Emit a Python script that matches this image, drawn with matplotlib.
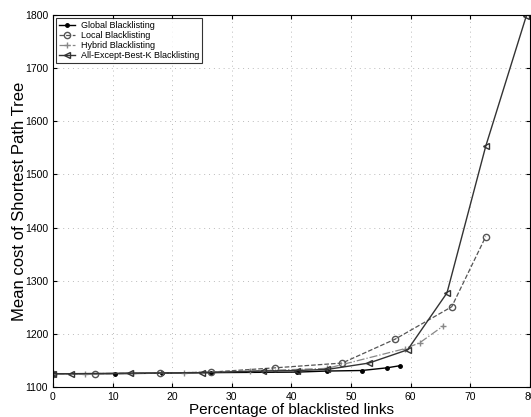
import matplotlib.pyplot as plt

# ---------------------------------------------------------
# Data
# ---------------------------------------------------------
global_x = [0, 10.4, 18.3, 26.5, 41, 46, 51.8, 56, 58.2]
global_y = [1125, 1125, 1126, 1127, 1128, 1130, 1131, 1136, 1140]

local_x = [0, 7, 18, 26.5, 37.2, 48.5, 57.4, 66.9, 72.6]
local_y = [1125, 1125, 1126, 1128, 1136, 1145, 1190, 1251, 1383]

hybrid_x = [0, 5.4, 13.5, 22, 33, 46, 59, 61.5, 65.5]
hybrid_y = [1125, 1125, 1126, 1127, 1130, 1135, 1172, 1183, 1215]

abk_x = [0, 3, 13, 25, 35.3, 41, 46, 53, 59.5, 66.1, 72.6, 79.4]
abk_y = [1125, 1125, 1126, 1127, 1130, 1131, 1133, 1145, 1170, 1277, 1553, 1798]

plt.rcParams['font.family'] = ['Liberation Sans', 'DejaVu Sans']

fig = plt.figure(figsize=(5.31, 4.17), dpi=100)
ax = fig.add_axes([0.0998, 0.072, 0.898, 0.892])

ax.plot(global_x, global_y, '-', color='black', lw=1.0, marker='.', ms=5,
        label='Global Blacklisting')
ax.plot(local_x, local_y, '--', color='#555555', lw=0.9, marker='o', ms=4.5,
        mfc='none', label='Local Blacklisting')
ax.plot(hybrid_x, hybrid_y, '-.', color='#888888', lw=0.9, marker='+', ms=4.5,
        label='Hybrid Blacklisting')
ax.plot(abk_x, abk_y, '-', color='#333333', lw=1.0, marker='<', ms=4.5,
        mfc='none', label='All-Except-Best-K Blacklisting')

ax.set_xlim(0, 80)
ax.set_ylim(1100, 1800)
ax.set_xticks(range(0, 81, 10))
ax.set_yticks(range(1100, 1801, 100))
ax.tick_params(direction='in', top=True, right=True, labelsize=7.5, length=3)
ax.grid(True, linestyle=(0, (1, 4)), color='#bbbbbb', lw=0.7)

ax.set_xlabel('Percentage of blacklisted links', fontsize=11, labelpad=1)
ax.set_ylabel('Mean cost of Shortest Path Tree', fontsize=12)
ax.yaxis.set_label_coords(-0.055, 0.5)

leg = ax.legend(loc='upper left', fontsize=6.5, frameon=True, fancybox=False,
                edgecolor='black', handlelength=1.8, borderpad=0.3,
                labelspacing=0.12, handletextpad=0.6, borderaxespad=0.35)
leg.get_frame().set_linewidth(0.8)

plt.savefig('out.png', dpi=100)
